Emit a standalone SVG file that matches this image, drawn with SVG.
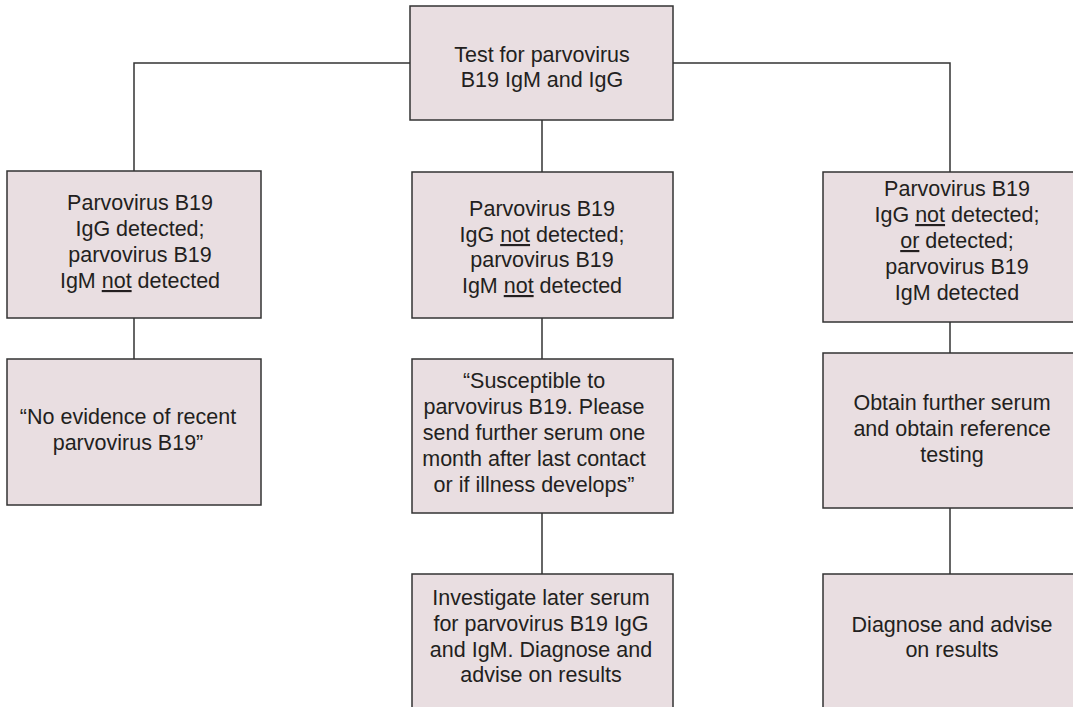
<svg xmlns="http://www.w3.org/2000/svg" width="1073" height="707" viewBox="0 0 1073 707">
<style>
.box{fill:#e9dee1;stroke:#333;stroke-width:1.5}
.conn{fill:none;stroke:#333;stroke-width:1.5}
text{font-family:"Liberation Sans",Arial,sans-serif;font-size:21.5px;fill:#231f20;text-anchor:middle}
.u{text-decoration:underline}
</style>
<rect width="1073" height="707" fill="#fff"/>
<g id="connectors">
<path class="conn" d="M134,171 V63 H410"/>
<path class="conn" d="M673,63 H950 V172"/>
<path class="conn" d="M542,120 V172"/>
<path class="conn" d="M134,318 V359"/>
<path class="conn" d="M542,318 V359"/>
<path class="conn" d="M542,513 V574"/>
<path class="conn" d="M950,322 V353"/>
<path class="conn" d="M950,508 V574"/>
</g>
<g id="n-top">
<rect class="box" x="410" y="6" width="263" height="114"/>
<text x="542" y="62">Test for parvovirus</text>
<text x="542" y="87">B19 IgM and IgG</text>
</g>
<g id="n-left1">
<rect class="box" x="7" y="171" width="254" height="147"/>
<text x="140" y="210">Parvovirus B19</text>
<text x="140" y="236">IgG detected;</text>
<text x="140" y="262">parvovirus B19</text>
<text x="140" y="288">IgM <tspan class="u">not</tspan> detected</text>
</g>
<g id="n-mid1">
<rect class="box" x="412" y="172" width="261" height="146"/>
<text x="542" y="216">Parvovirus B19</text>
<text x="542" y="242">IgG <tspan class="u">not</tspan> detected;</text>
<text x="542" y="267">parvovirus B19</text>
<text x="542" y="293">IgM <tspan class="u">not</tspan> detected</text>
</g>
<g id="n-right1">
<rect class="box" x="823" y="172" width="260" height="150"/>
<text x="957" y="196">Parvovirus B19</text>
<text x="957" y="222">IgG <tspan class="u">not</tspan> detected;</text>
<text x="957" y="248"><tspan class="u">or</tspan> detected;</text>
<text x="957" y="274">parvovirus B19</text>
<text x="957" y="300">IgM detected</text>
</g>
<g id="n-left2">
<rect class="box" x="7" y="359" width="254" height="146"/>
<text x="128" y="424">“No evidence of recent</text>
<text x="128" y="450">parvovirus B19”</text>
</g>
<g id="n-mid2">
<rect class="box" x="412" y="359" width="261" height="154"/>
<text x="534" y="388">“Susceptible to</text>
<text x="534" y="414">parvovirus B19. Please</text>
<text x="534" y="440">send further serum one</text>
<text x="534" y="466">month after last contact</text>
<text x="534" y="492">or if illness develops”</text>
</g>
<g id="n-right2">
<rect class="box" x="823" y="353" width="260" height="155"/>
<text x="952" y="410">Obtain further serum</text>
<text x="952" y="436">and obtain reference</text>
<text x="952" y="462">testing</text>
</g>
<g id="n-mid3">
<rect class="box" x="412" y="574" width="261" height="150"/>
<text x="541" y="605">Investigate later serum</text>
<text x="541" y="631">for parvovirus B19 IgG</text>
<text x="541" y="657">and IgM. Diagnose and</text>
<text x="541" y="682">advise on results</text>
</g>
<g id="n-right3">
<rect class="box" x="823" y="574" width="260" height="150"/>
<text x="952" y="632">Diagnose and advise</text>
<text x="952" y="657">on results</text>
</g>
</svg>
